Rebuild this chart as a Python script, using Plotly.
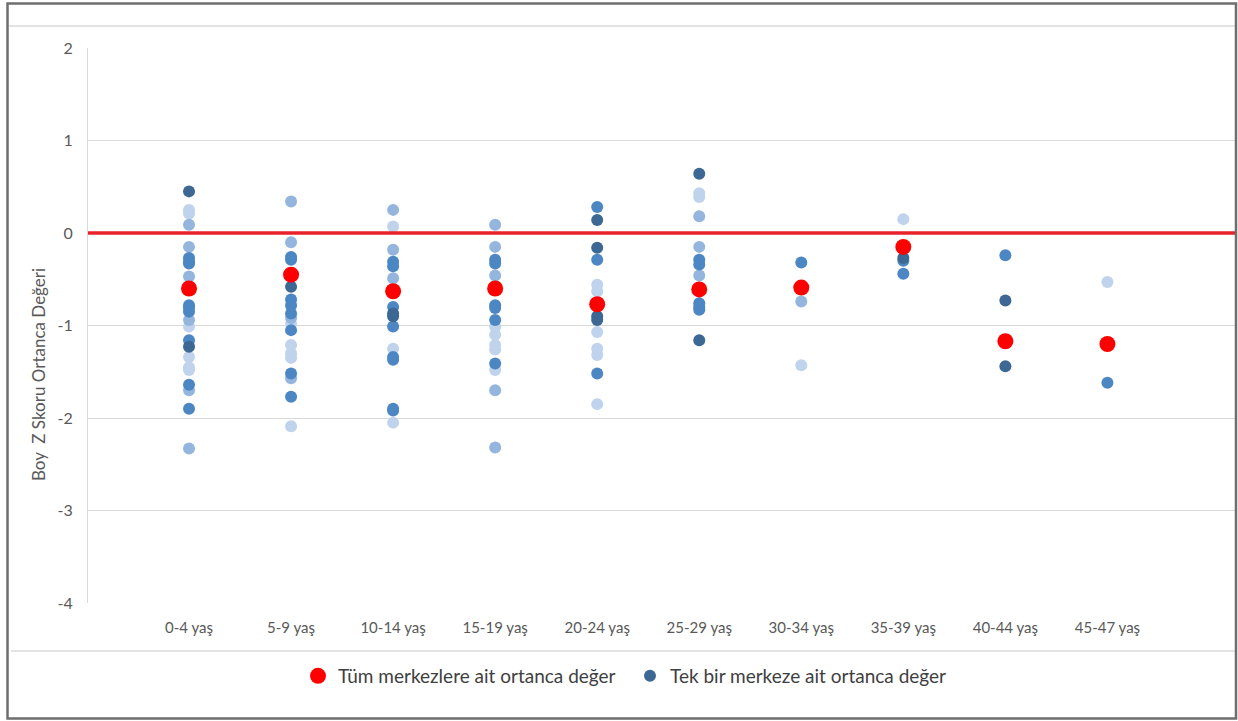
import plotly.graph_objects as go

categories = ["0-4 yaş", "5-9 yaş", "10-14 yaş", "15-19 yaş", "20-24 yaş",
              "25-29 yaş", "30-34 yaş", "35-39 yaş", "40-44 yaş", "45-47 yaş"]

# Median of all centres (red)
overall_median = [-0.60, -0.45, -0.63, -0.60, -0.77, -0.61, -0.59, -0.15, -1.17, -1.20]

# Single-centre medians, grouped by the shade they are drawn in (per category)
center_dark = [[0.45, -1.23], [-0.58], [-0.87, -0.90], [], [0.14, -0.16, -0.90, -0.94],
               [0.64, -1.16], [], [-0.27], [-0.73, -1.44], []]
center_medium = [[-0.27, -0.31, -0.33, -0.78, -0.81, -0.85, -1.16, -1.64, -1.90],
                 [-0.26, -0.29, -0.72, -0.78, -0.87, -1.05, -1.52, -1.77],
                 [-0.31, -0.36, -0.80, -1.01, -1.34, -1.37, -1.90, -1.92],
                 [-0.29, -0.33, -0.78, -0.81, -0.94, -1.41],
                 [0.28, -0.29, -1.52],
                 [-0.29, -0.34, -0.76, -0.80, -0.83],
                 [-0.32], [-0.30, -0.44], [-0.24], [-1.62]]
center_lightmed = [[0.09, -0.15, -0.47, -0.94, -1.70, -2.33],
                   [0.34, -0.10, -0.92, -1.57],
                   [0.25, -0.18, -0.49],
                   [0.09, -0.15, -0.46, -1.70, -2.32],
                   [], [0.18, -0.15, -0.46], [-0.74], [], [], []]
center_light = [[0.25, 0.21, -1.01, -1.34, -1.45, -1.48],
                [-0.98, -1.21, -1.30, -1.35, -2.09],
                [0.07, -1.25, -2.05],
                [-1.01, -1.10, -1.21, -1.26, -1.48],
                [-0.56, -0.63, -1.07, -1.25, -1.32, -1.85],
                [0.43, 0.39], [-1.43], [0.15], [], [-0.53]]

y_ticks = [2, 1, 0, -1, -2, -3, -4]
y_title = "Boy\u00a0 Z Skoru Ortanca Değeri"
legend_all = "Tüm merkezlere ait ortanca değer"
legend_single = "Tek bir merkeze ait ortanca değer"


def flatten(groups):
    xs, ys = [], []
    for cat, vals in zip(categories, groups):
        for v in vals:
            xs.append(cat)
            ys.append(v)
    return xs, ys


FONT = "Lato"
fig = go.Figure()

shades = [
    (center_light, "#C0D3EC", False),
    (center_lightmed, "#94B6DE", False),
    (center_medium, "#4C87C3", False),
    (center_dark, "#3C6893", True),
]
for groups, color, show in shades:
    xs, ys = flatten(groups)
    fig.add_trace(go.Scatter(
        x=xs, y=ys, mode="markers",
        marker=dict(size=12, color=color, line=dict(width=0)),
        name=legend_single, showlegend=show, legendrank=2,
        cliponaxis=False,
    ))

fig.add_trace(go.Scatter(
    x=categories, y=overall_median, mode="markers",
    marker=dict(size=16, color="#FF0000", line=dict(width=0)),
    name=legend_all, legendrank=1, cliponaxis=False,
))

W, H = 1238, 721
L, R, T, B = 88, 1236, 48, 603
pw, ph = R - L, B - T


def px(x):
    return (x - L) / pw


def py(y):
    return (B - y) / ph


shapes = [
    # zero reference line
    dict(type="line", xref="paper", yref="y", x0=0, x1=1, y0=0, y1=0,
         line=dict(color="#E8212A", width=3.5), layer="above"),
    # top light line
    dict(type="line", xref="paper", yref="paper", x0=px(9), x1=px(1235), y0=py(26), y1=py(26),
         line=dict(color="#E3E3E3", width=2)),
    # legend separator
    dict(type="line", xref="paper", yref="paper", x0=px(11), x1=px(1235), y0=py(651), y1=py(651),
         line=dict(color="#E3E3E3", width=2)),
    # outer border
    dict(type="rect", xref="paper", yref="paper", x0=px(7.5), x1=px(1236), y0=py(3.5), y1=py(718.5),
         line=dict(color="#6E6E6E", width=2.5)),
]

fig.update_layout(
    width=W, height=H,
    margin=dict(l=L, r=W - R, t=T, b=H - B),
    paper_bgcolor="white", plot_bgcolor="white",
    font=dict(family=FONT, color="#595959", size=15),
    shapes=shapes,
    showlegend=True,
    legend=dict(orientation="h", x=px(298), xanchor="left", y=py(676), yanchor="middle",
                font=dict(family=FONT, size=19, color="#404040"), entrywidth=287,
                itemsizing="trace", traceorder="normal", bgcolor="rgba(0,0,0,0)"),
    annotations=[dict(text=y_title, xref="paper", yref="paper", x=px(38), y=py(375),
                      textangle=-90, showarrow=False, xanchor="center", yanchor="middle",
                      font=dict(family=FONT, size=17, color="#595959"))],
)

fig.update_xaxes(type="category", categoryorder="array", categoryarray=categories,
                 range=[-0.99, 10.26], showgrid=False, zeroline=False, showline=False,
                 ticks="", tickfont=dict(size=15, color="#595959"), ticklabelstandoff=14)
fig.update_yaxes(range=[-4, 2], tickvals=y_ticks, ticktext=[str(v) for v in y_ticks],
                 showgrid=True, gridcolor="#D9D9D9", gridwidth=1, zeroline=False,
                 showline=True, linecolor="#D9D9D9", linewidth=1, mirror=False,
                 ticks="", tickfont=dict(size=16, color="#595959"), ticklabelstandoff=11)

fig.write_html("out.html", config={"displayModeBar": False},
               post_script="document.body.style.margin='0';document.body.style.overflow='hidden';")
